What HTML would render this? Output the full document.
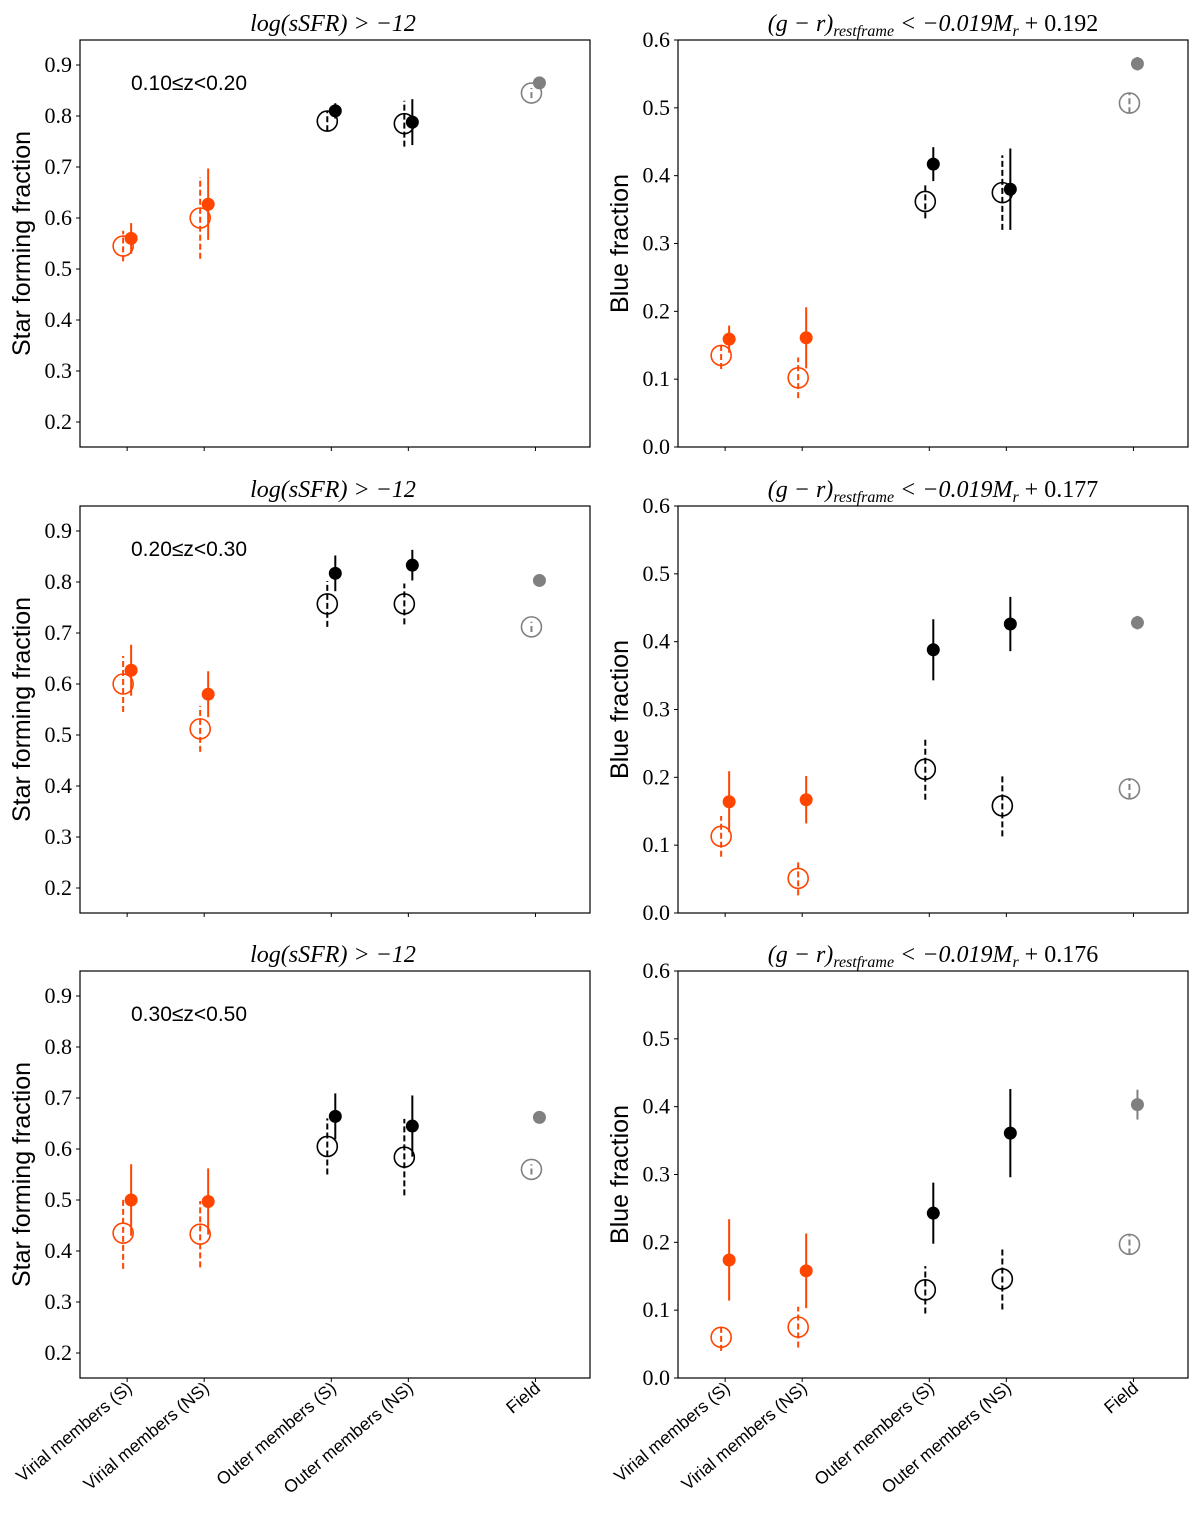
<!DOCTYPE html>
<html><head><meta charset="utf-8"><style>
body{margin:0;background:#fff;}
svg{display:block;}
.tk{font-family:"Liberation Serif",serif;font-size:22px;fill:#000;}
.yl{font-family:"Liberation Sans",sans-serif;font-size:25px;fill:#000;}
.xl{font-family:"Liberation Sans",sans-serif;font-size:17.5px;fill:#000;}
.ti{font-family:"Liberation Serif",serif;font-size:24px;fill:#000;font-style:italic;}
.zl{font-family:"Liberation Sans",sans-serif;font-size:21px;fill:#000;}
</style></head><body>
<svg id="fig" width="1200" height="1528" xmlns="http://www.w3.org/2000/svg"></svg>
<script>
const categories = ["Virial members (S)","Virial members (NS)","Outer members (S)","Outer members (NS)","Field"];
const catPos = [1,2,3.65,4.65,6.3];
const redshiftBins = ["0.10\u2264z<0.20","0.20\u2264z<0.30","0.30\u2264z<0.50"];
const colorCuts = ["0.192","0.177","0.176"];
const sfOpen1 = [0.545,0.60,0.79,0.785,0.845];
const sfOpenErr1 = [0.03,0.08,0.02,0.045,0.01];
const sfFill1 = [0.56,0.627,0.81,0.788,0.865];
const sfFillErr1 = [0.03,0.07,0.015,0.045,0.005];
const blOpen1 = [0.135,0.102,0.362,0.375,0.507];
const blOpenErr1 = [0.02,0.03,0.025,0.055,0.015];
const blFill1 = [0.159,0.161,0.417,0.38,0.565];
const blFillErr1 = [0.02,0.045,0.025,0.06,0.01];
const sfOpen2 = [0.60,0.512,0.757,0.757,0.712];
const sfOpenErr2 = [0.055,0.045,0.045,0.04,0.01];
const sfFill2 = [0.627,0.58,0.817,0.833,0.803];
const sfFillErr2 = [0.05,0.045,0.035,0.03,0.005];
const blOpen2 = [0.113,0.051,0.212,0.158,0.183];
const blOpenErr2 = [0.03,0.025,0.045,0.045,0.015];
const blFill2 = [0.164,0.167,0.388,0.426,0.428];
const blFillErr2 = [0.045,0.035,0.045,0.04,0.01];
const sfOpen3 = [0.435,0.433,0.605,0.584,0.56];
const sfOpenErr3 = [0.07,0.065,0.055,0.075,0.01];
const sfFill3 = [0.50,0.497,0.664,0.645,0.662];
const sfFillErr3 = [0.07,0.065,0.045,0.06,0.008];
const blOpen3 = [0.06,0.075,0.13,0.146,0.197];
const blOpenErr3 = [0.02,0.03,0.035,0.045,0.015];
const blFill3 = [0.174,0.158,0.243,0.361,0.403];
const blFillErr3 = [0.06,0.055,0.045,0.065,0.022];
const sfTicks = [0.2,0.3,0.4,0.5,0.6,0.7,0.8,0.9];
const blTicks = [0.0,0.1,0.2,0.3,0.4,0.5,0.6];

const NS="http://www.w3.org/2000/svg";
const svg=document.getElementById('fig');
function mk(t,a,p){const e=document.createElementNS(NS,t);for(const k in a)e.setAttribute(k,a[k]);(p||svg).appendChild(e);return e;}
const colors=["#ff4500","#ff4500","#000","#000","#808080"];
const rowsTop=[40,506,971];
const rows=[[sfOpen1,sfOpenErr1,sfFill1,sfFillErr1,blOpen1,blOpenErr1,blFill1,blFillErr1],
[sfOpen2,sfOpenErr2,sfFill2,sfFillErr2,blOpen2,blOpenErr2,blFill2,blFillErr2],
[sfOpen3,sfOpenErr3,sfFill3,sfFillErr3,blOpen3,blOpenErr3,blFill3,blFillErr3]];
function panel(r,side){
  const L=side===0?80:678, W=510, T=rowsTop[r], H=407;
  const ymin=side===0?0.151:0, ymax=side===0?0.949:0.6;
  const xs=v=>L+(v-0.44)/(7.06-0.44)*W;
  const ys=v=>T+H-(v-ymin)/(ymax-ymin)*H;
  const g=mk('g',{});
  
  
  const fr=mk('rect',{x:L,y:T,width:W,height:H,fill:'none',stroke:'#000','stroke-width':1.2},g);
  
  const ticks=side===0?sfTicks:blTicks;
  ticks.forEach(t=>{const y=ys(t);
    mk('line',{x1:L-4,x2:L,y1:y,y2:y,stroke:'#000'},g);
    const tx=mk('text',{x:L-8,y:y+7,'text-anchor':'end',class:'tk'},g);tx.textContent=t.toFixed(1);
    });
  catPos.forEach((c,i)=>{const x=xs(c)+4;mk('line',{x1:x,x2:x,y1:T+H,y2:T+H+4,stroke:'#000'},g);
    if(r===2){const tx=mk('text',{x:x+6,y:T+H+12,'text-anchor':'end',class:'xl',transform:`rotate(-40 ${x+6} ${T+H+12})`},g);tx.textContent=categories[i];
      }});
  const yl=mk('text',{x:0,y:0,'text-anchor':'middle',class:'yl',transform:`translate(${L-50} ${T+H/2}) rotate(-90)`},g);
  yl.textContent=side===0?'Star forming fraction':'Blue fraction';
  
  const ti=mk('text',{x:L+W/2-(side===0?2:0),y:T-9,'text-anchor':'middle',class:'ti'},g);
  
  if(side===0){ti.textContent='log(sSFR) > \u221212';}
  else{ti.innerHTML='(g \u2212 r)<tspan font-size="16" dy="5">restframe</tspan><tspan dy="-5"> &lt; \u22120.019M</tspan><tspan font-size="16" dy="5">r</tspan><tspan dy="-5" font-style="normal"> + '+colorCuts[r]+'</tspan>';}
  if(side===0){const z=mk('text',{x:131,y:T+50,class:'zl'},g);z.textContent=redshiftBins[r];
    }
  const d=rows[r], o=side*4;
  const op=d[o],oe=d[o+1],fi=d[o+2],fe=d[o+3];
  catPos.forEach((c,i)=>{
    const x=xs(c), col=colors[i];
    const l1=mk('line',{x1:x,x2:x,y1:ys(op[i]-oe[i]),y2:ys(op[i]+oe[i]),stroke:col,'stroke-width':2,'stroke-dasharray':'6,3'},g);
    
    const c1=mk('circle',{cx:x,cy:ys(op[i]),r:10,fill:'none',stroke:col,'stroke-width':1.6},g);
    
    const x2=x+8;
    const l2=mk('line',{x1:x2,x2:x2,y1:ys(fi[i]-fe[i]),y2:ys(fi[i]+fe[i]),stroke:col,'stroke-width':2},g);
    
    const c2=mk('circle',{cx:x2,cy:ys(fi[i]),r:6.5,fill:col},g);
    
  });
}
for(let r=0;r<3;r++){panel(r,0);panel(r,1);}
</script>
</body></html>
